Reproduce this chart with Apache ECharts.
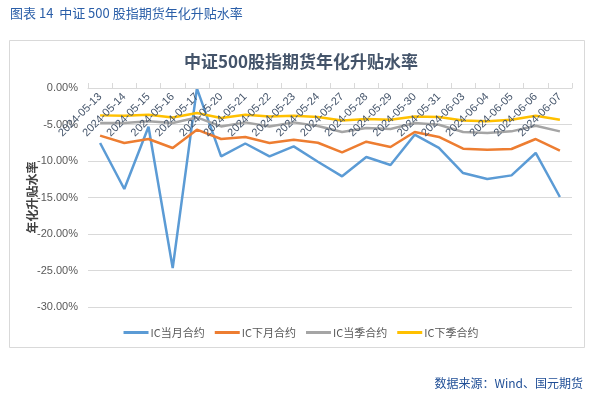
<!DOCTYPE html>
<html>
<head>
<meta charset="utf-8">
<script src="https://cdn.jsdelivr.net/npm/echarts@6/dist/echarts.min.js"></script>
<style>html,body{margin:0;padding:0;background:#fff;}#c{width:602px;height:398px;}</style>
</head>
<body>
<div id="c"></div>
<script>
const categories = ['2024-05-13','2024-05-14','2024-05-15','2024-05-16','2024-05-17','2024-05-20','2024-05-21','2024-05-22','2024-05-23','2024-05-24','2024-05-27','2024-05-28','2024-05-29','2024-05-30','2024-05-31','2024-06-03','2024-06-04','2024-06-05','2024-06-06','2024-06-07'];
const icCurrentMonth = [-7.53,-13.84,-5.3,-24.66,-0.05,-9.37,-7.6,-9.37,-8.0,-10.1,-12.1,-9.45,-10.55,-6.4,-8.2,-11.65,-12.47,-11.97,-8.9,-14.93];
const icNextMonth = [-6.53,-7.53,-6.99,-8.22,-5.71,-6.99,-6.71,-7.53,-7.08,-7.5,-8.82,-7.36,-8.08,-6.03,-6.71,-8.32,-8.45,-8.36,-6.99,-8.59];
const icCurrentQuarter = [-4.8,-4.8,-4.57,-4.8,-4.03,-5.26,-4.71,-5.26,-4.71,-5.2,-6.03,-5.48,-5.62,-4.8,-5.03,-6.03,-6.16,-5.94,-5.16,-5.94];
const icNextQuarter = [-3.75,-3.8,-3.66,-4.03,-3.42,-4.11,-3.66,-3.89,-3.8,-3.97,-4.44,-4.25,-4.34,-3.89,-3.97,-4.44,-4.57,-4.34,-3.8,-4.34];
const seriesNames = ['IC当月合约','IC下月合约','IC当季合约','IC下季合约'];
const yTicks = {min:-30, max:0, interval:5};

const chart = echarts.init(document.getElementById('c'), null, {renderer:'canvas'});
const colors = ['#5b9bd5','#ed7d31','#a5a5a5','#ffc000'];
const dataSets = [icCurrentMonth, icNextMonth, icCurrentQuarter, icNextQuarter];
chart.setOption({
  animation:false,
  backgroundColor:'#fff',
  color: colors,
  title:[
    {text:'图表 14  中证 500 股指期货年化升贴水率', left:5, top:2,
     textStyle:{color:'#2a5ea8', fontSize:13, fontWeight:'normal', fontFamily:'Noto Sans CJK SC'}},
    {text:'中证500股指期货年化升贴水率', left:'center', top:48,
     textStyle:{color:'#44546a', fontSize:17, fontWeight:'bold', fontFamily:'Noto Sans CJK SC'}},
    {text:'数据来源：Wind、国元期货', right:14, top:372,
     textStyle:{color:'#1f4e96', fontSize:12, fontWeight:'normal', fontFamily:'Noto Sans CJK SC'}}
  ],
  graphic:[
    {type:'rect', shape:{x:9.5, y:40.5, width:575, height:307}, style:{fill:'none', stroke:'#d9d9d9', lineWidth:1}, silent:true}
  ],
  legend:{
    data: seriesNames, top:322, left:'center', itemWidth:25, itemHeight:3, itemGap:10,
    icon:'rect',
    textStyle:{color:'#595959', fontSize:11, fontFamily:'Noto Sans CJK SC', padding:[0,0,0,-3]}
  },
  grid:{left:88, right:30, top:88, bottom:91, containLabel:false},
  xAxis:{
    type:'category', data:categories, boundaryGap:true, position:'top', z:10,
    axisLine:{lineStyle:{color:'#d9d9d9'}},
    axisTick:{show:true, inside:false, length:5, lineStyle:{color:'#d9d9d9'}},
    axisLabel:{rotate:45, inside:true, interval:0, margin:7, color:'#44546a', fontSize:11, fontFamily:'Liberation Sans'}
  },
  yAxis:{
    type:'value', min:yTicks.min, max:yTicks.max, interval:yTicks.interval,
    name:'年化升贴水率', nameLocation:'middle', nameGap:50, nameRotate:90, nameMoveOverlap:false,
    nameTextStyle:{color:'#404040', fontSize:12, fontWeight:'bold', fontFamily:'Noto Sans CJK SC'},
    axisLine:{show:false}, axisTick:{show:false},
    axisLabel:{color:'#595959', fontSize:11, margin:10, fontFamily:'Liberation Sans',
      formatter: v => v.toFixed(2) + '%'},
    splitLine:{lineStyle:{color:'#d9d9d9'}}
  },
  series: seriesNames.map((n,i)=>({
    name:n, type:'line', data:dataSets[i], symbol:'none', smooth:false,
    lineStyle:{width:2.5, color:colors[i]}
  }))
});
</script>
</body>
</html>
